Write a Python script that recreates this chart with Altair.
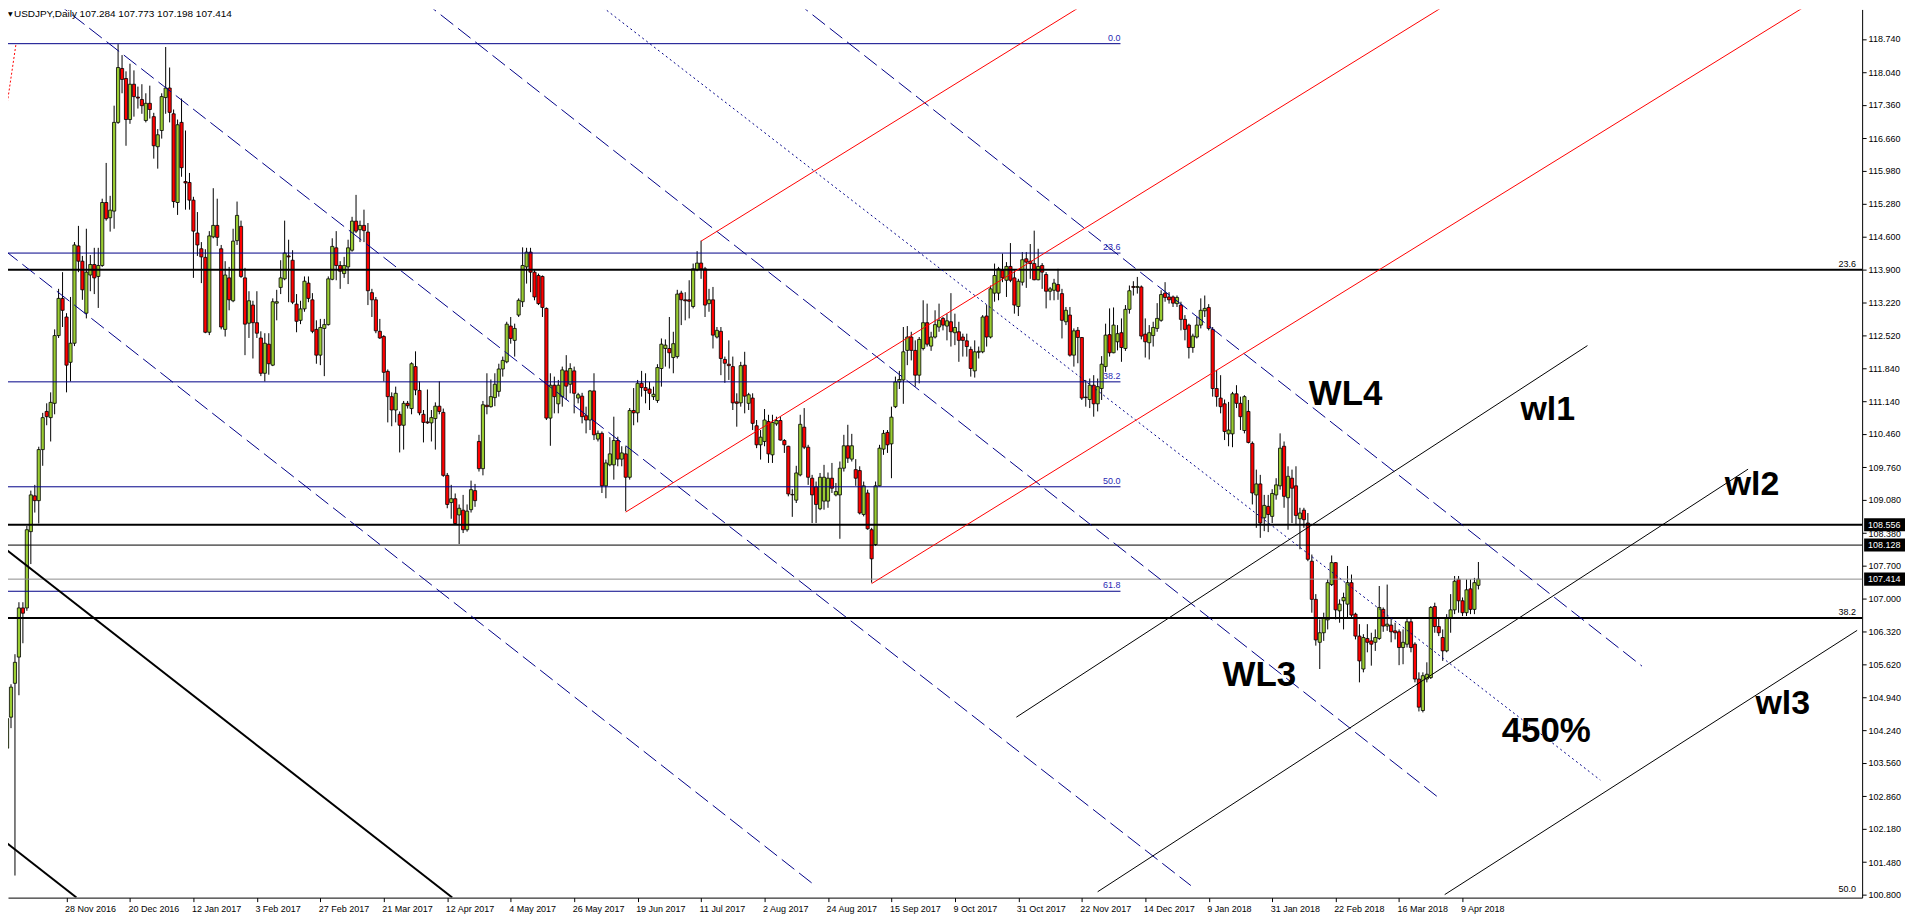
import altair as alt
import pandas as pd

# ---------------- OHLC data (daily bars, index 1 = 7 Nov 2016 ... 372 = 13 Apr 2018) -------------
open_ = [
103.87,104.52,105.23,105.78,106.81,106.81,108.41,109.16,109.06,110.13,
110.93,110.80,111.10,112.52,113.30,112.91,111.96,112.36,114.40,114.08,
112.99,113.79,114.01,113.76,113.99,115.31,114.99,115.13,116.99,118.12,
117.91,117.05,117.79,117.52,117.47,117.03,117.39,117.11,116.48,116.82,
117.51,117.71,117.17,115.31,116.99,115.75,115.73,115.36,114.67,114.34,
114.16,112.59,114.59,114.83,114.34,112.65,113.73,113.25,114.51,114.81,
113.73,112.78,113.16,112.79,112.47,111.73,112.34,111.90,113.20,113.53,
113.71,114.19,114.10,113.18,112.84,113.08,113.62,113.27,112.65,112.11,
112.67,112.75,113.70,114.36,113.99,113.82,113.96,114.31,114.92,114.74,
114.83,114.69,113.42,113.27,112.61,112.50,111.77,111.24,110.96,110.87,
110.64,111.10,110.99,111.87,111.37,110.87,110.71,110.69,110.78,111.04,
110.91,109.59,109.02,109.10,108.76,108.86,108.45,108.87,109.27,110.30,
109.73,111.06,111.03,111.22,111.35,111.82,111.97,112.72,112.42,112.95,
113.23,113.96,114.27,113.85,113.78,113.76,113.09,110.79,111.48,111.09,
111.24,111.78,111.50,111.78,111.21,111.25,110.84,110.75,111.36,110.35,
110.47,109.37,109.81,109.81,110.32,109.93,110.04,109.55,110.95,110.90,
111.52,111.43,111.40,111.24,111.16,111.83,112.25,112.25,112.06,112.08,
113.41,113.27,113.27,113.13,113.90,114.04,113.92,113.19,113.27,112.49,
112.61,112.02,111.92,111.87,111.13,111.11,111.90,111.10,111.21,110.63,
110.23,110.30,110.72,110.02,110.67,110.74,110.32,110.20,109.19,109.07,
109.60,110.60,110.18,109.53,109.35,108.89,109.05,109.05,109.53,109.18,
109.18,109.74,110.21,109.93,109.71,109.69,108.77,109.22,108.45,108.14,
109.37,110.14,110.49,110.25,111.03,111.55,111.59,112.21,112.49,112.21,
111.69,112.25,112.79,112.30,112.49,112.70,112.88,112.72,112.81,112.58,
112.60,112.49,112.41,112.23,111.78,112.17,112.18,112.93,112.49,113.41,
113.41,113.89,113.68,113.97,113.73,113.13,113.64,114.13,114.08,114.03,
113.69,113.99,113.80,113.45,113.47,113.59,113.40,112.81,112.95,112.11,
112.63,112.48,111.23,111.18,111.48,111.09,111.41,111.87,112.54,112.16,
112.39,112.58,112.25,113.07,113.55,113.53,113.54,112.55,112.37,112.52,
112.67,112.84,113.41,113.33,113.33,113.19,113.16,112.86,112.74,112.27,
112.49,112.74,113.04,113.11,112.65,111.41,111.21,111.09,110.46,110.46,
111.30,111.10,110.53,110.93,110.26,109.18,109.41,108.70,108.94,108.73,
109.18,109.37,110.20,109.12,109.53,109.37,108.68,108.86,108.59,107.79,
106.99,106.09,106.29,106.56,107.30,107.76,106.75,106.96,106.89,107.34,
106.68,106.22,105.53,106.17,106.12,106.09,106.17,106.78,106.43,106.45,
106.33,106.31,105.98,106.05,106.52,106.05,105.32,104.66,105.32,105.35,
106.84,106.42,106.19,105.91,106.59,106.77,107.41,106.96,106.71,107.21,
106.78,107.284]
high = [
104.64,105.21,105.84,106.93,106.93,108.53,109.27,109.39,110.19,110.90,
111.10,111.33,112.65,113.50,113.85,112.99,113.33,114.48,114.82,114.19,
114.76,114.21,114.36,114.36,115.39,116.14,115.45,117.34,118.63,118.40,
118.06,118.22,118.08,117.74,117.79,117.60,117.76,117.19,116.85,117.60,
118.57,118.14,117.26,117.05,117.49,116.82,115.93,115.43,115.11,114.48,
114.33,114.71,115.61,115.39,114.42,114.08,113.96,114.76,115.33,114.93,
113.94,113.45,113.25,113.45,112.61,112.57,112.57,113.30,113.48,114.10,
114.93,114.53,114.31,113.39,113.25,113.76,113.76,113.41,112.84,112.87,
112.87,113.76,114.56,114.71,114.08,114.17,114.53,115.01,115.47,114.93,
115.16,114.88,113.50,113.33,112.87,112.53,111.81,111.33,111.45,110.93,
111.15,111.15,111.96,112.19,111.56,110.96,111.39,110.96,111.12,111.56,
110.99,109.64,109.39,109.21,108.98,109.18,108.98,109.48,109.41,110.44,
111.15,111.73,111.60,111.73,111.93,112.08,112.81,112.91,112.77,113.30,
114.37,114.36,114.36,113.89,113.82,113.78,113.11,111.73,111.66,111.59,
111.87,112.11,111.94,111.87,111.32,111.32,111.03,111.38,111.73,110.53,
110.51,109.92,110.39,110.82,110.40,110.20,110.20,111.00,111.42,111.59,
111.78,111.73,111.55,111.45,111.92,112.46,112.44,112.91,112.60,113.48,
113.46,113.43,113.68,114.03,114.29,114.51,113.96,113.50,113.54,112.70,
112.70,112.08,112.42,112.08,111.31,111.97,112.18,111.32,111.31,110.75,
110.54,110.98,110.86,110.86,110.82,110.82,110.35,110.21,109.30,109.79,
110.86,111.00,110.23,109.60,109.46,109.64,109.81,109.65,109.85,109.43,
109.88,110.44,110.65,110.46,109.93,109.78,109.46,109.29,108.49,109.46,
110.23,110.54,110.54,111.03,111.66,111.78,112.70,112.72,112.60,112.42,
112.49,113.26,113.19,112.60,113.05,113.19,112.91,112.98,113.41,112.98,
112.81,112.56,112.56,112.29,112.42,112.29,112.95,113.16,113.57,114.03,
113.96,114.24,114.06,114.46,113.89,113.71,114.27,114.27,114.44,114.72,
114.34,114.04,113.85,113.54,113.71,113.92,113.50,113.12,113.12,112.67,
112.70,112.49,111.59,111.62,111.69,111.62,112.09,112.77,113.09,113.11,
112.74,112.88,113.16,113.57,113.66,113.75,113.57,112.88,112.74,112.81,
113.20,113.47,113.64,113.43,113.36,113.36,113.23,112.95,112.77,112.56,
112.91,113.30,113.36,113.18,112.70,111.80,111.69,111.18,111.13,111.34,
111.48,111.24,111.27,111.17,110.30,109.71,109.60,109.18,109.18,109.30,
109.53,110.47,110.30,109.78,109.71,109.78,108.91,108.91,108.80,107.93,
107.10,106.57,106.71,107.41,107.91,107.77,106.99,107.13,107.69,107.51,
106.71,106.47,106.26,106.47,106.29,106.36,107.27,106.82,107.30,106.61,
106.50,106.36,106.36,106.61,106.61,106.09,105.46,105.46,105.67,106.85,
106.92,106.61,106.36,106.68,107.10,107.48,107.48,107.03,107.41,107.41,
107.44,107.773]
low = [
103.84,104.29,101.20,104.98,106.07,106.75,107.73,108.81,108.58,109.79,
110.64,110.30,110.87,112.47,112.70,111.33,111.56,112.30,113.85,113.27,
112.88,113.45,113.39,113.10,113.96,114.93,114.70,114.76,116.96,117.60,
116.50,116.96,117.11,117.28,117.17,116.99,117.07,116.23,116.02,116.65,
117.17,116.99,115.20,115.05,115.85,115.16,115.16,113.73,114.19,113.62,
112.57,112.53,114.56,114.40,112.65,112.50,113.05,113.22,114.42,113.73,
112.11,112.47,112.04,112.47,111.67,111.56,111.70,111.88,112.84,113.39,
113.68,113.22,113.18,112.59,112.76,113.02,113.22,112.57,111.93,111.90,
111.67,112.73,113.68,113.68,113.50,113.73,113.60,114.28,114.67,114.48,
114.48,113.16,112.91,112.57,112.45,111.56,110.70,110.62,110.70,110.07,
110.13,110.99,110.87,111.27,110.85,110.28,110.67,110.30,110.13,110.87,
109.56,108.90,108.68,108.56,108.15,108.38,108.41,108.81,108.93,109.67,
109.59,110.87,111.01,111.04,111.24,111.66,111.94,112.35,112.08,112.91,
113.12,113.61,113.43,113.26,113.16,112.91,110.75,110.21,110.89,110.89,
111.03,111.17,111.31,110.89,111.10,110.68,110.47,110.54,110.33,110.30,
109.22,109.11,109.78,109.50,109.78,109.78,108.84,109.50,110.64,110.70,
111.24,111.10,110.96,111.17,111.11,111.45,111.87,111.83,111.73,112.04,
112.74,112.84,112.88,113.09,113.87,113.71,112.91,113.02,112.25,112.46,
111.69,111.53,111.59,110.96,110.61,111.03,110.89,110.96,110.54,110.16,
109.92,110.20,109.85,109.85,110.63,110.32,110.06,109.15,108.72,109.01,
109.57,110.14,109.39,108.59,108.59,108.86,108.87,108.91,109.22,109.15,
108.26,109.67,109.85,109.88,109.37,108.77,108.73,108.45,107.34,108.11,
109.36,110.02,110.06,109.53,111.00,111.40,111.09,111.90,112.00,111.45,
111.52,112.21,112.29,112.20,112.46,112.60,112.63,112.42,112.29,112.32,
111.97,112.08,112.08,111.66,111.64,112.04,112.15,112.29,112.46,113.23,
113.26,113.64,113.33,113.64,112.98,112.93,113.57,113.52,113.71,113.68,
113.68,113.50,113.09,113.26,113.26,113.27,112.46,112.74,112.08,111.87,
111.94,111.17,111.03,111.00,110.82,110.93,111.17,111.76,112.08,112.15,
112.21,111.97,112.20,112.98,113.36,113.40,112.44,112.06,112.02,112.29,
112.60,112.81,113.23,113.19,113.12,113.12,112.63,112.42,112.04,112.16,
112.46,112.67,112.91,112.63,111.24,111.03,110.89,110.33,110.20,110.18,
111.00,110.54,110.47,110.26,108.98,108.49,108.28,108.42,108.40,108.59,
109.08,109.29,108.91,108.45,108.59,108.56,108.04,108.49,107.79,106.71,
106.02,105.53,106.12,106.36,107.27,106.57,106.50,106.36,106.59,106.61,
106.15,105.25,105.46,105.88,105.60,105.91,106.14,106.31,106.33,106.09,
106.15,105.61,105.63,105.98,105.88,105.25,104.64,104.62,105.25,105.32,
106.29,106.22,105.70,105.88,106.29,106.68,106.71,106.64,106.64,106.68,
106.68,107.198]
close = [
104.49,105.15,105.67,106.81,106.70,108.45,109.18,109.06,110.13,110.80,
110.82,111.12,112.52,113.30,113.05,111.90,112.36,114.42,114.08,113.48,
113.85,114.01,113.73,113.99,115.31,114.97,115.15,116.99,118.14,117.89,
117.05,117.79,117.53,117.50,117.34,117.39,117.26,116.50,116.73,117.53,
117.71,117.20,115.33,116.94,116.04,115.72,115.36,114.71,114.42,114.17,
112.59,114.61,114.83,114.58,112.70,113.79,113.27,114.50,115.04,113.76,
112.76,113.25,112.79,112.57,111.73,112.36,111.93,113.23,113.23,113.73,
114.25,114.17,113.22,112.82,113.08,113.66,113.30,112.61,112.11,112.69,
112.75,113.71,114.39,113.99,113.87,113.99,114.36,114.92,114.71,114.83,
114.72,113.46,113.27,112.62,112.47,111.75,111.24,110.96,111.31,110.64,
111.10,111.05,111.93,111.38,110.90,110.70,110.69,110.80,111.04,110.93,
109.59,108.98,109.10,108.58,108.90,108.45,108.84,109.29,109.06,109.73,
111.07,111.03,111.24,111.50,111.82,112.00,112.76,112.46,112.67,113.26,
113.99,114.27,113.85,113.33,113.19,113.11,110.79,111.48,111.24,111.48,
111.80,111.46,111.83,111.31,111.28,110.82,110.75,111.36,110.44,110.47,
109.37,109.85,110.04,110.32,109.93,110.06,109.55,110.95,110.90,111.52,
111.43,111.37,111.31,111.29,111.85,112.34,112.32,112.16,112.35,113.39,
113.27,113.25,113.24,113.92,114.04,113.92,113.16,113.27,112.53,112.63,
112.04,111.94,111.89,111.11,111.10,111.89,111.25,111.28,110.68,110.23,
110.39,110.75,110.04,110.70,110.74,110.33,110.23,109.20,109.18,109.64,
110.66,110.18,109.55,109.18,108.98,109.55,109.55,109.53,109.32,109.25,
109.74,110.21,109.95,110.21,109.53,108.80,109.37,108.47,107.84,109.37,
110.16,110.47,110.23,110.81,111.55,111.60,112.18,112.49,112.21,111.69,
112.44,112.79,112.34,112.49,112.75,112.84,112.74,112.83,112.60,112.69,
112.42,112.42,112.29,111.83,112.18,112.19,112.91,112.49,113.50,113.78,
113.92,113.73,113.97,113.68,113.16,113.66,114.11,114.06,114.03,113.69,
113.97,113.85,113.45,113.50,113.62,113.45,112.84,113.05,112.11,112.62,
112.48,111.21,111.22,111.48,111.09,111.45,111.92,112.53,112.16,112.74,
112.56,112.27,113.07,113.46,113.53,113.55,112.51,112.39,112.58,112.69,
112.88,113.38,113.32,113.27,113.20,113.32,112.86,112.65,112.27,112.51,
112.74,113.05,113.09,112.67,111.41,111.24,111.03,110.51,110.54,111.30,
111.10,110.82,111.24,110.28,109.22,109.41,108.59,108.96,108.77,109.21,
109.39,110.16,109.15,109.57,109.32,108.75,108.80,108.66,107.83,106.99,
106.14,106.29,106.61,107.34,107.76,106.77,106.89,107.03,107.34,106.66,
106.22,105.70,106.19,106.09,106.05,106.19,106.82,106.43,106.47,106.31,
106.29,105.98,106.09,106.52,105.98,105.32,104.73,105.39,105.42,106.82,
106.42,106.29,105.91,106.61,106.77,107.37,106.96,106.71,107.19,106.78,
107.34,107.414]

# ---------------- axis labels ----------------
date_idx = [16, 32, 48, 64, 80, 96, 112, 128, 144, 160, 176, 192, 208, 224, 240, 256,
            272, 288, 304, 320, 336, 352, 368]
date_labels = ["28 Nov 2016", "20 Dec 2016", "12 Jan 2017", "3 Feb 2017", "27 Feb 2017",
               "21 Mar 2017", "12 Apr 2017", "4 May 2017", "26 May 2017", "19 Jun 2017",
               "11 Jul 2017", "2 Aug 2017", "24 Aug 2017", "15 Sep 2017", "9 Oct 2017",
               "31 Oct 2017", "22 Nov 2017", "14 Dec 2017", "9 Jan 2018", "31 Jan 2018",
               "22 Feb 2018", "16 Mar 2018", "9 Apr 2018"]
price_ticks = [119.420, 118.740, 118.040, 117.360, 116.660, 115.980, 115.280, 114.600,
               113.900, 113.220, 112.520, 111.840, 111.140, 110.460, 109.760, 109.080,
               108.380, 107.700, 107.000, 106.320, 105.620, 104.940, 104.240, 103.560,
               102.860, 102.180, 101.480, 100.800]

# ---------------- drawing objects (bar index, price) ----------------
blue_fib_levels = [118.64, 114.25, 111.55, 109.35, 107.16]
blue_fib_names = ["0.0", "23.6", "38.2", "50.0", "61.8"]
blue_fib_start, blue_fib_end = 0.5, 281.75

black_fib_levels = [113.90, 106.60, 100.80]
black_fib_names = ["23.6", "38.2", "50.0"]
black_fib_label_x = 467.2

thick_levels = [113.90, 106.60, 108.556]
thin_levels = [108.128]
bid_level = [107.414]
box_levels = [108.556, 108.128, 107.414]

blue_dash = {"x1": [13, 0.5, 106, 199.75], "p1": [119.53, 114.30, 119.53, 119.53],
             "x2": [299.5, 204.75, 362, 413.25], "p2": [100.99, 100.99, 102.83, 105.59]}
blue_dot = {"x1": [149.25], "p1": [119.53], "x2": [402.75], "p2": [103.20]}
red_solid = {"x1": [176, 157, 219], "p1": [114.50, 108.82, 107.32],
             "x2": [290, 370, 460], "p2": [120.36, 119.77, 119.71]}
red_dot = {"x1": [0.5], "p1": [117.08], "x2": [3.25], "p2": [118.63]}
black_thin = {"x1": [255.5, 276, 363.5], "p1": [104.52, 100.86, 100.80],
              "x2": [399.5, 440, 467.5], "p2": [112.31, 109.72, 106.34]}
black_thick = {"x1": [0.5, 0.5], "p1": [101.91, 108.05],
               "x2": [18.5, 113.25], "p2": [100.74, 100.74]}

big_text = ["WL4", "WL3", "450%", "wl1", "wl2", "wl3"]
big_x = [338.5, 316.75, 389.1, 389.5, 441.0, 448.75]
big_p = [111.06, 105.17, 104.00, 110.75, 109.18, 104.58]
big_size = [35, 35, 35, 34, 34, 34]

symbol = "USDJPY,Daily"

# ---------------- scales / axes ----------------
FONT = "Liberation Sans"
W, H = 1860, 891
xs = alt.Scale(domain=[2.5, 467.5], nice=False, zero=False)
ys = alt.Scale(domain=[100.737, 119.358], nice=False, zero=False)
label_map = "{" + ",".join(f"'{i}':'{l}'" for i, l in zip(date_idx, date_labels)) + "}"
xaxis = alt.Axis(values=date_idx, labelExpr=f"{label_map}[datum.value]", title=None,
                 orient="bottom", grid=False, labelAlign="left", labelBaseline="top",
                 labelOffset=-2, labelPadding=3, tickSize=4, labelOverlap=False,
                 labelFlush=False, domainColor="black", tickColor="black",
                 labelColor="black", labelFont=FONT, labelFontSize=9)
yaxis = alt.Axis(values=price_ticks, format=".3f", title=None, orient="right", grid=False,
                 labelAlign="left", labelPadding=2, tickSize=4, labelOverlap=False,
                 labelFlush=False, domainColor="black", tickColor="black",
                 labelColor="black", labelFont=FONT, labelFontSize=9)


def X(f):
    return alt.X(f, type="quantitative", scale=xs, axis=xaxis)


def Y(f):
    return alt.Y(f, type="quantitative", scale=ys, axis=yaxis)


bars = pd.DataFrame({"i": list(range(1, len(open_) + 1)), "o": open_, "h": high,
                     "l": low, "c": close})

wicks = alt.Chart(bars).mark_rule(color="black", strokeWidth=1).encode(
    x=X("i"), y=Y("l"), y2="h")
bodies = alt.Chart(bars).mark_bar(size=3.2, stroke="black", strokeWidth=0.8).encode(
    x=X("i"), y=Y("o"), y2="c",
    fill=alt.when(alt.datum.c >= alt.datum.o).then(alt.value("#9acd32"))
    .otherwise(alt.value("#ff0000")))


def seg_layer(d, color, width=1, dash=None):
    df = pd.DataFrame(d)
    kw = dict(color=color, strokeWidth=width, clip=True)
    if dash:
        kw["strokeDash"] = dash
    return alt.Chart(df).mark_rule(**kw).encode(x=X("x1"), x2="x2", y=Y("p1"), y2="p2")


BLUE = "#000088"
BLUE_TXT = "#2a2ab4"
bf = pd.DataFrame({"p": blue_fib_levels, "name": blue_fib_names,
                   "x1": [blue_fib_start] * 5, "x2": [blue_fib_end] * 5})
blue_fib_lines = alt.Chart(bf).mark_rule(color=BLUE, strokeWidth=1, clip=True).encode(
    x=X("x1"), x2="x2", y=Y("p"))
blue_fib_text = alt.Chart(bf).mark_text(align="right", baseline="bottom", dy=-1,
                                        color=BLUE_TXT, font=FONT, fontSize=9).encode(
    x=X("x2"), y=Y("p"), text="name:N")

kf = pd.DataFrame({"p": black_fib_levels, "name": black_fib_names,
                   "x": [black_fib_label_x] * 3})
black_fib_text = alt.Chart(kf).mark_text(align="right", baseline="bottom", dy=-1,
                                         color="black", font=FONT, fontSize=9).encode(
    x=X("x"), y=Y("p"), text="name:N")

thick_rules = alt.Chart(pd.DataFrame({"p": thick_levels})).mark_rule(
    color="black", strokeWidth=2).encode(y=Y("p"))
thin_rules = alt.Chart(pd.DataFrame({"p": thin_levels})).mark_rule(
    color="black", strokeWidth=1).encode(y=Y("p"))
bid_rule = alt.Chart(pd.DataFrame({"p": bid_level})).mark_rule(
    color="#8c8c8c", strokeWidth=1).encode(y=Y("p"))

bt = pd.DataFrame({"t": big_text, "x": big_x, "p": big_p, "s": big_size})
big_labels = alt.Chart(bt).mark_text(align="center", baseline="alphabetic", font=FONT,
                                     fontWeight="bold", color="black").encode(
    x=X("x"), y=Y("p"), text="t:N",
    size=alt.Size("s:Q", scale=None, legend=None))

bx = pd.DataFrame({"p": box_levels, "t": [f"{v:.3f}" for v in box_levels]})
boxes = alt.Chart(bx).mark_point(shape="M-1,-0.32L1,-0.32L1,0.32L-1,0.32Z", filled=True,
                                 size=1681, color="black", opacity=1).encode(
    x=alt.value(W + 22.5), y=Y("p"))
box_text = alt.Chart(bx).mark_text(align="left", baseline="middle", color="white",
                                   font=FONT, fontSize=9).encode(
    x=alt.value(W + 6), y=Y("p"), text="t:N")

hdr = pd.DataFrame({"t": [f"{symbol}  {open_[-1]:.3f} {high[-1]:.3f} {low[-1]:.3f} {close[-1]:.3f}"]})
header = alt.Chart(hdr).mark_text(align="left", baseline="top", font=FONT, fontSize=10,
                                  color="black").encode(
    x=alt.value(6), y=alt.value(0), text="t:N")
tri = alt.Chart(pd.DataFrame({"t": ["\u25bc"]})).mark_text(
    align="left", baseline="top", font="DejaVu Sans", fontSize=6, color="black").encode(
    x=alt.value(0), y=alt.value(2), text="t:N")

chart = alt.layer(
    wicks, bodies,
    blue_fib_lines, blue_fib_text,
    thick_rules, thin_rules, bid_rule, black_fib_text,
    seg_layer(blue_dash, BLUE, 1, [16, 6]),
    seg_layer(blue_dot, BLUE, 1, [2, 3]),
    seg_layer(red_solid, "#ff0000", 1),
    seg_layer(red_dot, "#ff0000", 1, [2, 2]),
    seg_layer(black_thin, "black", 1),
    seg_layer(black_thick, "black", 2),
    big_labels, boxes, box_text, header, tri,
).properties(
    width=W, height=H,
    autosize=alt.AutoSizeParams(type="none"),
    padding={"left": 0, "top": 0, "right": 43, "bottom": 16},
    background="white",
).configure_view(stroke=None)

chart.save("out.html", embed_options={"renderer": "svg", "actions": False})
